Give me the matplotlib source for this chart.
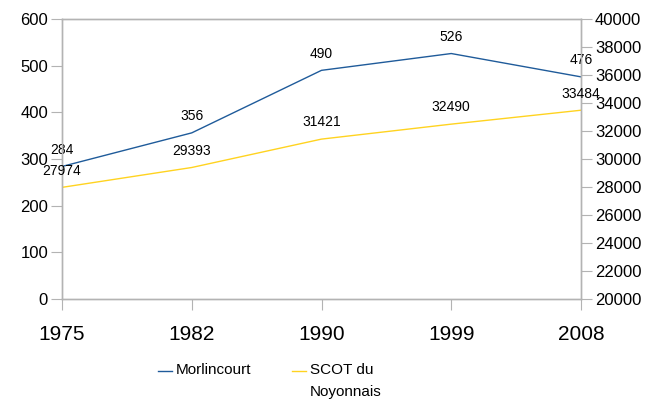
import matplotlib.pyplot as plt
from matplotlib.lines import Line2D

plt.rcParams['font.family'] = ['Liberation Sans', 'DejaVu Sans']

years = ['1975', '1982', '1990', '1999', '2008']
morlincourt = [284, 356, 490, 526, 476]
scot = [27974, 29393, 31421, 32490, 33484]
names = ['Morlincourt', 'SCOT du\nNoyonnais']

blue = '#1f5b9a'
yellow = '#ffd320'
grey = '#b3b3b3'

fig = plt.figure(figsize=(6.51, 4.05), dpi=100)
ax = fig.add_axes([62 / 651, 106 / 405, 519 / 651, 280 / 405])
ax2 = ax.twinx()

x = list(range(len(years)))
ax.plot(x, morlincourt, color=blue, lw=1)
ax2.plot(x, scot, color=yellow, lw=1)

for xi, v in zip(x, morlincourt):
    ax.annotate(str(v), (xi, v), xytext=(0, 7), textcoords='offset points',
                ha='center', va='bottom', fontsize=10)
for xi, v in zip(x, scot):
    ax2.annotate(str(v), (xi, v), xytext=(0, 7), textcoords='offset points',
                 ha='center', va='bottom', fontsize=10)

ax.set_xlim(0, len(years) - 1)
ax.set_ylim(0, 600)
ax.set_yticks(range(0, 601, 100))
ax2.set_ylim(20000, 40000)
ax2.set_yticks(range(20000, 40001, 2000))
ax.set_xticks(x)
ax.set_xticklabels(years)

for a in (ax, ax2):
    for s in a.spines.values():
        s.set_color(grey)
        s.set_linewidth(1)
ax.tick_params(axis='y', length=8, color=grey, labelsize=12, pad=2)
ax.tick_params(axis='x', length=8, color=grey, labelsize=15, pad=11)
ax2.tick_params(axis='y', length=8, color=grey, labelsize=12, pad=2)

# legend drawn by hand so the handle sits on the first text line
leg_x = [158, 292]
leg_y = 1 - 371 / 405
for lx, name, col in zip(leg_x, names, [blue, yellow]):
    fig.add_artist(Line2D([lx / 651, (lx + 14) / 651], [leg_y, leg_y],
                          color=col, lw=1, transform=fig.transFigure))
    fig.text((lx + 18) / 651, 1 - 363 / 405, name, fontsize=11,
             ha='left', va='top', linespacing=1.75)

fig.savefig('out.png', dpi=100)
